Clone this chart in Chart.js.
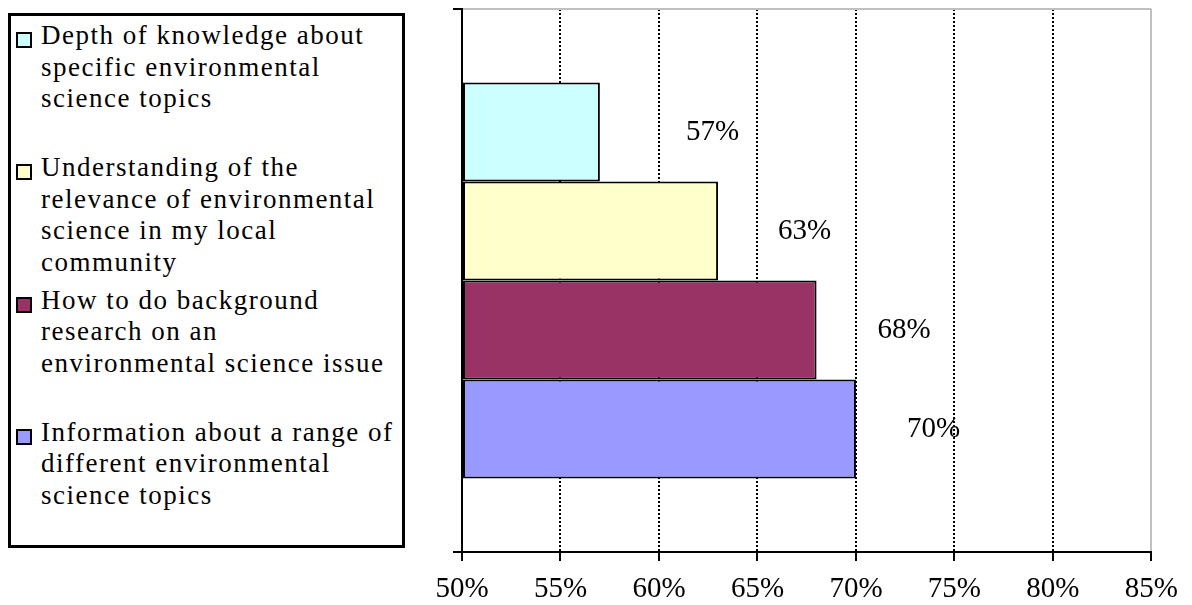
<!DOCTYPE html>
<html>
<head>
<meta charset="utf-8">
<script src="https://cdn.jsdelivr.net/npm/chart.js@4"></script>
<style>
  body { margin: 0; background: #fff; }
  #wrap { position: relative; width: 1192px; height: 605px; }
  #chart { position: absolute; left: 0; top: 0; }
  #legend {
    position: absolute; left: 8px; top: 13px; width: 391px; height: 529px;
    border: 3px solid #000; background: #fff;
    font-family: 'Liberation Serif', 'Times New Roman', serif;
    font-size: 27px; line-height: 31.5px; letter-spacing: 1.5px; color: #000;
  }
  .item { position: absolute; left: 0; width: 391px; height: 132px; }
  .mark { position: absolute; left: 5px; top: 16px; width: 12px; height: 12px; border: 2px solid #000; }
  .txt { position: absolute; left: 30px; top: 4px; white-space: pre-line; }
</style>
</head>
<body>
<div id="wrap">
  <canvas id="chart" width="1192" height="605"></canvas>
  <div id="legend"></div>
</div>
<script>
document.addEventListener("DOMContentLoaded", function() {
    const seriesNames = [
        'Depth of knowledge about\nspecific environmental\nscience topics',
        'Understanding of the\nrelevance of environmental\nscience in my local\ncommunity',
        'How to do background\nresearch on an\nenvironmental science issue',
        'Information about a range of\ndifferent environmental\nscience topics'
    ];
    const seriesValues = [57, 63, 68, 70];
    const seriesColors = ['#ccffff', '#ffffcc', '#993366', '#9999ff'];
    const axisMin = 50;
    const axisMax = 85;
    const axisStep = 5;

    // hand-placed label nudges (px right of bar end), as in the original
    const labelNudge = [86, 60, 61, 51];

    // legend, built as html so the wrapped lines stay as text
    const legend = document.getElementById('legend');
    seriesNames.forEach(function(name, i) {
        const item = document.createElement('div');
        item.className = 'item';
        item.style.top = (i * 132.3) + 'px';
        const mark = document.createElement('div');
        mark.className = 'mark';
        mark.style.background = seriesColors[i];
        const txt = document.createElement('div');
        txt.className = 'txt';
        txt.textContent = name;
        item.appendChild(mark);
        item.appendChild(txt);
        legend.appendChild(item);
    });

    const valueLabels = {
        id: 'valueLabels',
        beforeDatasetsDraw(chart) {
            const { ctx, chartArea } = chart;
            ctx.save();
            ctx.strokeStyle = '#c0c0c0';
            ctx.lineWidth = 2;
            ctx.beginPath();
            ctx.moveTo(chartArea.left + 1, chartArea.top);
            ctx.lineTo(chartArea.right, chartArea.top);
            ctx.stroke();
            ctx.restore();
        },
        afterDatasetsDraw(chart) {
            const ctx = chart.ctx;
            ctx.save();
            ctx.font = "29px 'Liberation Serif'";
            ctx.fillStyle = '#000';
            ctx.textAlign = 'left';
            ctx.textBaseline = 'middle';
            chart.data.datasets.forEach(function(ds, i) {
                const bar = chart.getDatasetMeta(i).data[0];
                ctx.fillText(ds.data[0] + '%', bar.x + labelNudge[i], bar.y);
            });
            ctx.restore();
        }
    };

    Chart.defaults.font.family = "'Liberation Serif', 'Times New Roman', serif";
    Chart.defaults.color = '#000';

    const lastTick = (axisMax - axisMin) / axisStep;

    new Chart(document.getElementById('chart'), {
        type: 'bar',
        data: {
            labels: [''],
            datasets: seriesNames.map(function(name, i) {
                return {
                    label: name,
                    data: [seriesValues[i]],
                    base: axisMin,
                    backgroundColor: seriesColors[i],
                    borderColor: '#000',
                    borderWidth: 2,
                    borderSkipped: false,
                    categoryPercentage: 0.729,
                    barPercentage: 1
                };
            })
        },
        options: {
            indexAxis: 'y',
            responsive: false,
            animation: false,
            layout: { padding: { left: 453, right: 39, top: 9, bottom: 0 } },
            plugins: {
                legend: { display: false },
                tooltip: { enabled: false }
            },
            scales: {
                x: {
                    min: axisMin,
                    max: axisMax,
                    ticks: {
                        stepSize: axisStep,
                        padding: 14,
                        font: { size: 29, lineHeight: 1 },
                        callback: function(v) { return v + '%'; }
                    },
                    grid: {
                        color: function(c) { return c.index === lastTick ? '#c0c0c0' : '#000'; },
                        lineWidth: 2,
                        tickColor: '#000',
                        tickWidth: 2,
                        tickLength: 9
                    },
                    border: {
                        color: '#000',
                        width: 2,
                        dash: function(c) { return c.index === lastTick ? [] : [2, 2]; }
                    },
                    afterFit: function(scale) { scale.height = 53; }
                },
                y: {
                    offset: true,
                    ticks: { display: false },
                    grid: {
                        offset: true,
                        drawOnChartArea: false,
                        color: '#000',
                        lineWidth: 2,
                        tickLength: 9
                    },
                    border: { color: '#000', width: 2 },
                    afterFit: function(scale) { scale.width = 9; }
                }
            }
        },
        plugins: [valueLabels]
    });
});
</script>
</body>
</html>
